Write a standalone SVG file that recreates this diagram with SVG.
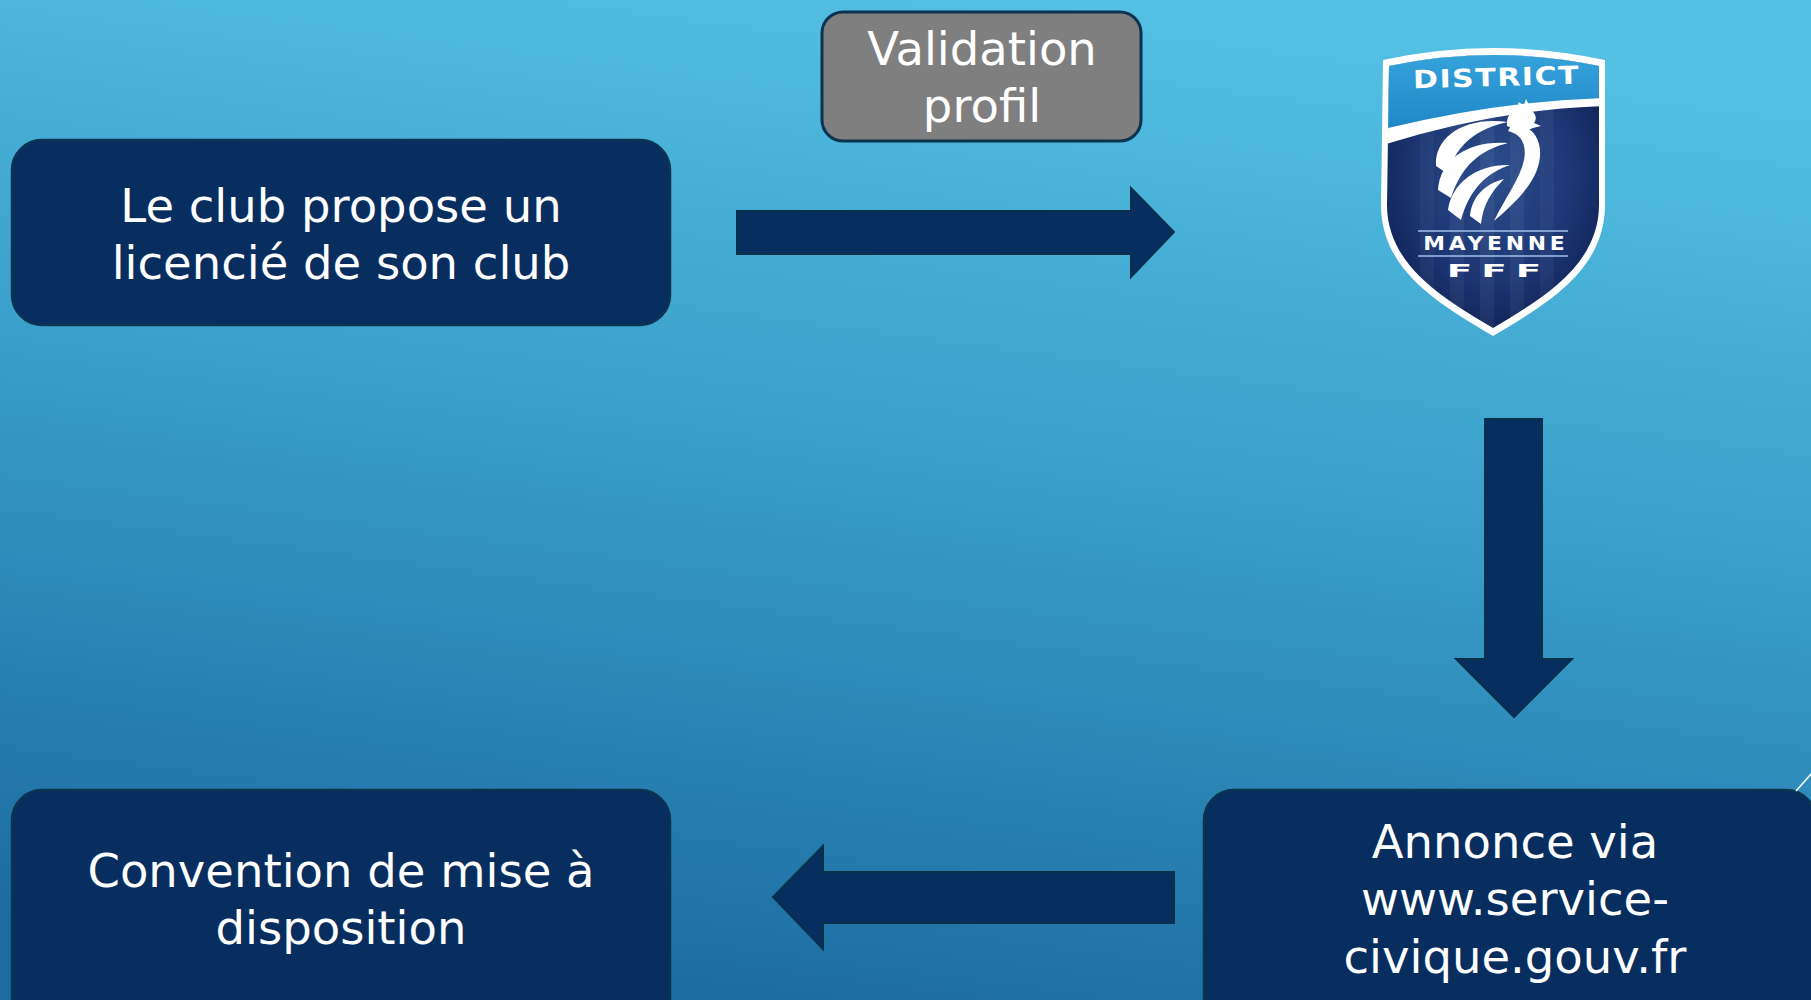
<svg xmlns="http://www.w3.org/2000/svg" width="1811" height="1000" viewBox="0 0 1811 1000">
<defs>
<linearGradient id="bg" x1="0.62" y1="0" x2="0.38" y2="1">
<stop offset="0" stop-color="#54c0e3"/>
<stop offset="0.45" stop-color="#3a9fcb"/>
<stop offset="1" stop-color="#1c6ba1"/>
</linearGradient>
<radialGradient id="shieldBody" cx="0.5" cy="0.45" r="0.6">
<stop offset="0" stop-color="#2c4d8c"/>
<stop offset="0.6" stop-color="#1b3572"/>
<stop offset="1" stop-color="#0c1d4c"/>
</radialGradient>
<linearGradient id="band" x1="0" y1="0" x2="0" y2="1">
<stop offset="0" stop-color="#3aa8e0"/>
<stop offset="1" stop-color="#1f86c6"/>
</linearGradient>
<clipPath id="shieldClip">
<path d="M1389,66 Q1493,44 1599,66 L1599,205 C1599,266 1540,300 1493,328 C1446,300 1387,266 1387,205 Z"/>
</clipPath>
<style>
.box{fill:#072e5f;stroke:#0b3450;stroke-width:2.5}
.arrow{fill:#062f5f;stroke:#0a3048;stroke-width:2}
.t{font-family:"DejaVu Sans","Liberation Sans",sans-serif;font-size:46.5px;fill:#ffffff;text-anchor:middle}
.lg{font-family:"DejaVu Sans","Liberation Sans",sans-serif;font-weight:bold;fill:#ffffff;text-anchor:middle}
.feather{fill:#ffffff}
</style>
</defs>

<rect x="0" y="0" width="1811" height="1000" fill="url(#bg)"/>

<g id="connectors">
<polygon id="arrow-right" class="arrow" points="737,211 1131,211 1131,188 1174,232 1131,277 1131,254 737,254"/>
<polygon id="arrow-down" class="arrow" points="1485,419 1542,419 1542,659 1572,659 1514,717 1456,659 1485,659"/>
<polygon id="arrow-left" class="arrow" points="1174,872 823,872 823,846 773,897 823,949 823,923 1174,923"/>
</g>

<g id="node-club">
<rect class="box" x="12" y="140" width="658" height="185" rx="30" ry="30"/>
<text class="t" x="341" y="222">Le club propose un</text>
<text class="t" x="341" y="279">licencié de son club</text>
</g>

<g id="node-validation">
<rect x="822" y="12" width="319" height="129" rx="21" ry="21" fill="#7f7f7f" stroke="#0b3350" stroke-width="3"/>
<text class="t" x="982" y="65">Validation</text>
<text class="t" x="982" y="122">profil</text>
</g>

<g id="node-district-logo">
<path d="M1383,60 Q1493,36 1605,60 L1605,205 C1605,272 1543,306 1493,336 C1443,306 1381,272 1381,205 Z" fill="#ffffff"/>
<g clip-path="url(#shieldClip)">
<rect x="1380" y="40" width="230" height="300" fill="url(#shieldBody)"/>
<rect x="1420" y="100" width="14" height="240" fill="#ffffff" opacity="0.04"/>
<rect x="1450" y="100" width="14" height="240" fill="#ffffff" opacity="0.05"/>
<rect x="1480" y="100" width="14" height="240" fill="#ffffff" opacity="0.05"/>
<rect x="1510" y="100" width="14" height="240" fill="#ffffff" opacity="0.05"/>
<rect x="1540" y="100" width="14" height="240" fill="#ffffff" opacity="0.04"/>
<path d="M1380,40 L1610,40 L1610,106 Q1500,108 1380,146 Z" fill="#ffffff"/>
<path d="M1380,40 L1610,40 L1610,98 Q1500,100 1380,130 Z" fill="url(#band)"/>
</g>
<text class="lg" font-size="25" textLength="138" lengthAdjust="spacing" transform="translate(1496,86) rotate(-1.5) scale(1.2,1)" x="0" y="0">DISTRICT</text>
<path class="feather" d="M1436,166 C1434,136 1466,116 1508,122 C1478,128 1456,144 1448,174 Z"/>
<path class="feather" d="M1438,190 C1440,158 1470,140 1508,143 C1480,150 1461,166 1451,198 Z"/>
<path class="feather" d="M1448,210 C1452,182 1478,164 1510,165 C1487,173 1470,188 1461,220 Z"/>
<path class="feather" d="M1470,216 C1472,196 1485,184 1504,179 C1491,192 1483,205 1481,224 Z"/>
<path class="feather" d="M1512,124 C1532,124 1544,140 1539,163 C1534,185 1514,204 1494,221 C1505,198 1520,179 1524,160 C1527,144 1521,134 1508,131 Z"/>
<path class="feather" d="M1507,126 C1506,116 1512,109 1520,108 L1518,102 L1524,105 L1526,99 L1529,105 L1535,103 L1532,111 C1536,114 1537,119 1534,123 L1541,126 L1533,128 C1528,131 1517,131 1507,126 Z"/>
<line x1="1418" y1="231" x2="1568" y2="231" stroke="#9fc3ea" stroke-width="1.6"/>
<text class="lg" font-size="19" textLength="123" lengthAdjust="spacing" transform="translate(1494,250) scale(1.15,1)" x="0" y="0">MAYENNE</text>
<line x1="1418" y1="256" x2="1568" y2="256" stroke="#9fc3ea" stroke-width="1.6"/>
<text class="lg" font-size="17" textLength="43" lengthAdjust="spacing" transform="translate(1494,277) scale(2.2,1)" x="0" y="0">FFF</text>
</g>

<g id="node-convention">
<rect class="box" x="12" y="790" width="658" height="240" rx="30" ry="30"/>
<text class="t" x="341" y="887">Convention de mise à</text>
<text class="t" x="341" y="944">disposition</text>
</g>

<g id="node-annonce">
<rect class="box" x="1204" y="790" width="612" height="240" rx="30" ry="30"/>
<text class="t" x="1515" y="858">Annonce via</text>
<text class="t" x="1515" y="915">www.service-</text>
<text class="t" x="1515" y="973">civique.gouv.fr</text>
</g>

<line x1="1796" y1="791" x2="1812" y2="773" stroke="#ffffff" stroke-width="1.5"/>
</svg>
